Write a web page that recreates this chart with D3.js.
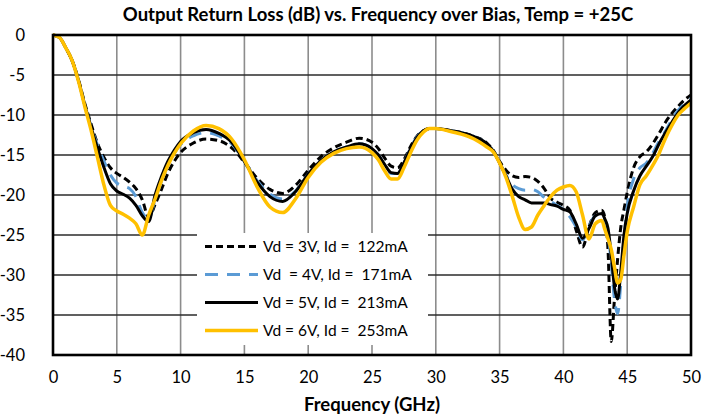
<!DOCTYPE html>
<html>
<head>
<meta charset="utf-8"/>
<title>Output Return Loss vs. Frequency</title>
<script src="https://cdn.jsdelivr.net/npm/d3@7"></script>
<style>
  body { margin: 0; background: #fff; }
  svg { font-family: Lato, "Open Sans", sans-serif; }
  .grid-h line { stroke: #2b2b2b; stroke-width: 1.6; }
  .grid-v line { stroke: #8c8c8c; stroke-width: 1.6; }
  .tick-label { font-size: 16.5px; fill: #000; }
</style>
</head>
<body>
<svg id="chart" width="706" height="419"></svg>
<script>
// frequency grid (GHz), shared by every trace
const freq = [0,0.5,1,1.5,2,2.5,3,3.5,4,4.5,5,5.5,6,6.5,7,7.5,8,8.5,9,9.5,10,
  11,12,13,14,15,16,17,18,19,20,21,22,23,24,25,25.5,26,26.5,27,27.5,28,28.5,29,29.5,30,
  31,32,33,34,34.5,35,35.5,36,36.5,37,37.5,38,38.5,39,39.5,40,40.5,41,41.5,42,42.5,43,
  43.25,43.5,43.75,44,44.25,44.5,44.75,45,45.5,46,46.5,47,47.5,48,48.5,49,49.5,50];

// output return loss (dB), one array per bias point
const rl3V = [0,-0.3,-1.6,-3.2,-5.6,-8.6,-11.2,-13.6,-15.3,-16.6,-17.3,-17.8,-18.4,-19.2,-20.6,-22.8,-21.2,-19.3,-17.3,-15.8,-14.7,
  -13.5,-13.0,-13.2,-14.1,-15.9,-17.9,-19.3,-19.8,-18.8,-16.9,-15.2,-14.1,-13.4,-12.9,-13.4,-14.2,-15.4,-16.4,-16.6,-15.6,-14.0,-12.7,-12.0,-11.7,-11.7,
  -11.9,-12.2,-12.7,-13.5,-14.4,-15.8,-16.9,-17.6,-17.8,-17.7,-17.8,-18.3,-19.2,-20.4,-20.9,-21.3,-21.9,-24.4,-26.5,-24.0,-22.2,-21.9,
  -22.8,-27.0,-38.3,-33.0,-28.0,-24.0,-21.8,-19.7,-16.6,-15.2,-14.6,-13.6,-12.3,-10.9,-9.8,-8.9,-8.1,-7.5];

const rl4V = [0,-0.3,-1.6,-3.2,-5.7,-8.8,-11.5,-13.8,-15.8,-17.5,-18.5,-18.9,-19.2,-20.2,-22.2,-23.0,-20.6,-18.3,-16.3,-14.8,-13.7,
  -12.6,-12.2,-12.6,-13.6,-15.8,-18.2,-19.9,-20.5,-19.5,-17.4,-15.7,-14.6,-14.0,-13.6,-14.2,-15.0,-16.3,-17.3,-17.3,-16.0,-14.2,-12.8,-12.0,-11.7,-11.7,
  -11.9,-12.2,-12.7,-13.6,-14.5,-16.0,-17.5,-18.7,-19.2,-19.4,-19.3,-19.6,-20.3,-20.8,-21.3,-21.8,-22.7,-24.0,-25.6,-24.0,-22.6,-22.6,
  -23.4,-25.0,-28.5,-33.0,-34.8,-31.0,-25.5,-21.5,-18.0,-16.6,-16.0,-14.8,-13.3,-12.0,-10.6,-9.4,-8.6,-7.9];

const rl5V = [0,-0.3,-1.6,-3.2,-5.7,-8.8,-11.6,-14.2,-16.6,-18.6,-19.5,-19.9,-20.4,-21.3,-22.6,-23.3,-20.0,-17.7,-15.8,-14.4,-13.3,
  -12.2,-11.8,-12.3,-13.4,-15.8,-18.4,-20.2,-20.8,-19.6,-17.4,-15.7,-14.6,-14.0,-13.6,-14.2,-15.0,-16.2,-17.2,-17.3,-16.0,-14.3,-12.9,-12.0,-11.7,-11.7,
  -11.9,-12.2,-12.7,-13.6,-14.5,-16.0,-17.6,-19.3,-20.2,-20.6,-21.0,-21.0,-21.0,-21.2,-21.4,-21.8,-22.1,-23.6,-25.4,-24.2,-22.6,-22.3,
  -23.0,-24.2,-27.5,-31.5,-33.0,-29.5,-25.0,-22.3,-19.5,-17.6,-16.4,-15.2,-13.6,-12.2,-10.9,-9.7,-8.8,-8.1];

const rl6V = [0,-0.3,-1.6,-3.2,-5.8,-9.0,-12.0,-15.4,-18.8,-21.3,-22.0,-22.4,-22.9,-23.6,-25.0,-22.5,-20.5,-18.2,-16.3,-14.8,-13.6,
  -12.0,-11.3,-11.7,-13.0,-15.6,-19.0,-21.5,-22.2,-20.5,-17.8,-15.9,-14.8,-14.2,-14.0,-14.7,-15.6,-17.0,-18.0,-18.0,-16.6,-14.8,-13.2,-12.2,-11.7,-11.7,
  -12.0,-12.4,-13.0,-14.0,-14.6,-16.0,-17.8,-20.2,-22.8,-24.3,-24.0,-22.5,-21.3,-20.2,-19.4,-19.0,-18.8,-19.6,-22.5,-25.5,-23.6,-23.2,
  -24.3,-25.5,-26.8,-29.0,-31.0,-30.5,-27.5,-24.6,-21.5,-18.7,-17.6,-16.3,-14.8,-12.9,-11.3,-10.0,-9.2,-8.5];

const seriesNames = ["Vd = 3V, Id =  122mA", "Vd  = 4V, Id =  171mA", "Vd = 5V, Id =  213mA", "Vd = 6V, Id =  253mA"];
const seriesValues = [rl3V, rl4V, rl5V, rl6V];
const seriesColors = ["#000000", "#5b9bd5", "#000000", "#ffc000"];
const seriesDash = ["7,4", "13,9", null, null];
const seriesWidth = [3, 3, 3, 3.5];

const xTicks = [0,5,10,15,20,25,30,35,40,45,50];
const yTicks = [0,-5,-10,-15,-20,-25,-30,-35,-40];

const svg = d3.select("#chart");
const x = d3.scaleLinear().domain([0, 50]).range([53, 691]);
const y = d3.scaleLinear().domain([-40, 0]).range([355, 35]);

// grid
svg.append("g").attr("class", "grid-v")
  .selectAll("line").data(xTicks).enter().append("line")
  .attr("x1", d => x(d)).attr("x2", d => x(d))
  .attr("y1", y(0)).attr("y2", y(-40));
svg.append("g").attr("class", "grid-h")
  .selectAll("line").data(yTicks).enter().append("line")
  .attr("x1", x(0)).attr("x2", x(50))
  .attr("y1", d => y(d)).attr("y2", d => y(d));

// tick labels via axes (plain hyphen minus like the original)
const xAxis = svg.append("g")
  .attr("transform", "translate(0," + y(-40) + ")")
  .call(d3.axisBottom(x).tickValues(xTicks).tickSize(0).tickPadding(16)
    .tickFormat(d => String(d)));
const yAxis = svg.append("g")
  .attr("transform", "translate(" + x(0) + ",0)")
  .call(d3.axisLeft(y).tickValues(yTicks).tickSize(0).tickPadding(28)
    .tickFormat(d => String(d)));
[xAxis, yAxis].forEach(a => {
  a.select(".domain").remove();
  a.selectAll("text").attr("class", "tick-label").style("font-family", "Lato, sans-serif");
});

// traces
const line = d3.line()
  .x((d, i) => x(freq[i]))
  .y(d => y(d))
  .curve(d3.curveMonotoneX);

seriesValues.forEach((vals, k) => {
  svg.append("path")
    .datum(vals)
    .attr("d", line)
    .attr("fill", "none")
    .attr("stroke", seriesColors[k])
    .attr("stroke-width", seriesWidth[k])
    .attr("stroke-dasharray", seriesDash[k])
    .attr("stroke-linejoin", "round");
});

// plot frame
svg.append("rect")
  .attr("x", x(0)).attr("y", y(0))
  .attr("width", x(50) - x(0)).attr("height", y(-40) - y(0))
  .attr("fill", "none").attr("stroke", "#000").attr("stroke-width", 2.6);

// legend
const leg = svg.append("g");
leg.append("rect")
  .attr("x", 197).attr("y", 233).attr("width", 231).attr("height", 112)
  .attr("fill", "#fff");
seriesNames.forEach((name, k) => {
  const yy = 246.5 + k * 28;
  leg.append("line")
    .attr("x1", 205).attr("x2", 258).attr("y1", yy).attr("y2", yy)
    .attr("stroke", seriesColors[k])
    .attr("stroke-width", seriesWidth[k])
    .attr("stroke-dasharray", seriesDash[k]);
  leg.append("text")
    .attr("x", 263).attr("y", yy).attr("dy", "0.35em")
    .attr("font-size", 15.5)
    .style("white-space", "pre")
    .text(name);
});

// titles
svg.append("text")
  .attr("x", 378).attr("y", 21)
  .attr("text-anchor", "middle")
  .attr("font-size", 18.5).attr("font-weight", "bold")
  .text("Output Return Loss (dB) vs. Frequency over Bias, Temp = +25C");
svg.append("text")
  .attr("x", 372).attr("y", 411)
  .attr("text-anchor", "middle")
  .attr("font-size", 18.5).attr("font-weight", "bold")
  .text("Frequency (GHz)");
</script>
</body>
</html>
